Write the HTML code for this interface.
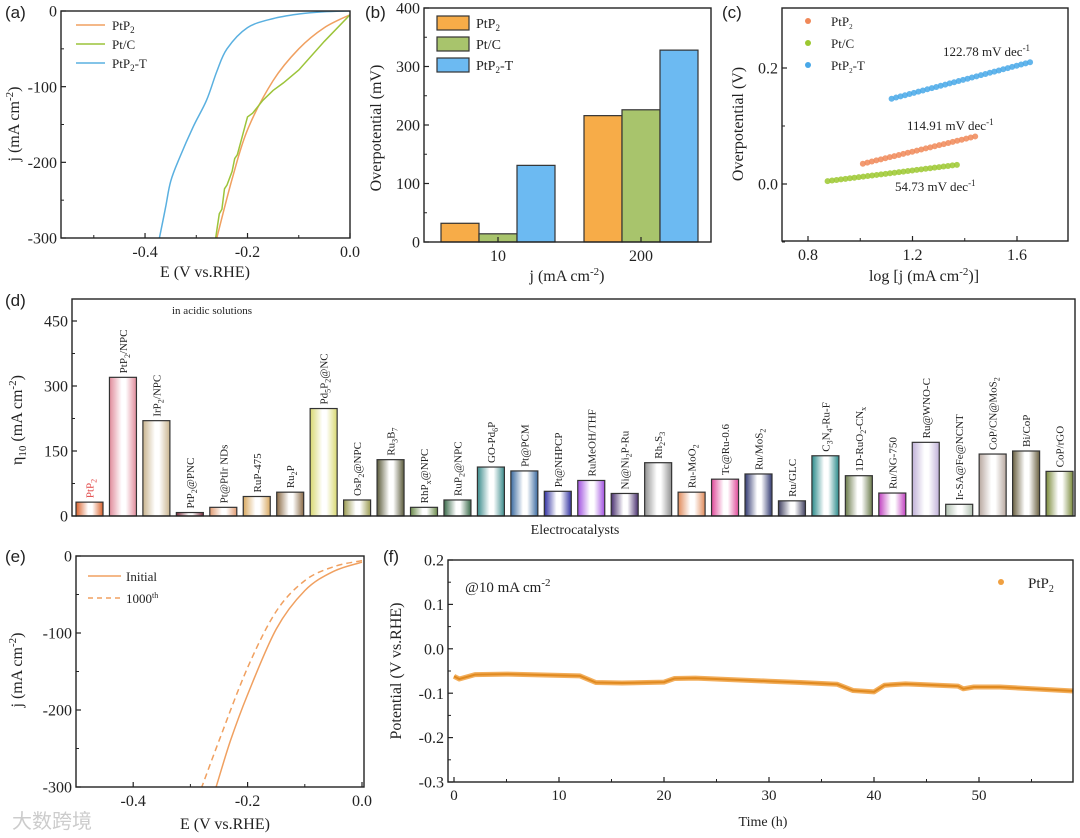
<!DOCTYPE html>
<html><head><meta charset="utf-8">
<style>
html,body{margin:0;padding:0;background:#fff;overflow:hidden;}
svg{display:block;font-family:"Liberation Serif",serif;}
.pl{font-family:"Liberation Sans",sans-serif;font-size:17px;fill:#222;}
</style></head>
<body>
<svg id="fig" width="1080" height="838" viewBox="0 0 1080 838" xmlns="http://www.w3.org/2000/svg">
<defs id="defs"><clipPath id="ca"><rect x="61" y="11" width="289" height="227"/></clipPath><clipPath id="ce"><rect x="76" y="556" width="288" height="231"/></clipPath></defs>
<g id="root"></g>
</svg>
<script>
// ---------- DATA ----------
// (a) LSV curves
const aPtP2E=[0,-0.05,-0.1,-0.15,-0.2,-0.23,-0.26];
const aPtP2J=[-5,-22,-50,-92,-157,-222,-300];
const aPtCE=[0,-0.05,-0.1,-0.13,-0.15,-0.17,-0.19,-0.2,-0.21,-0.22,-0.225,-0.23,-0.24,-0.245,-0.25,-0.255,-0.26,-0.262];
const aPtCJ=[-5,-40,-78,-95,-105,-118,-135,-140,-165,-190,-195,-212,-230,-235,-262,-268,-290,-300];
const aTE=[0,-0.05,-0.1,-0.15,-0.2,-0.24,-0.26,-0.28,-0.306,-0.332,-0.35,-0.36,-0.372];
const aTJ=[0,-1,-4,-10,-22,-50,-80,-118,-153,-193,-225,-260,-300];
// (b) bars
const bCats=["10","200"];
const bPtP2=[32,216];
const bPtC=[14,226];
const bPtP2T=[131,328];
// (c) Tafel
const cPtP2X=[1.01,1.44];const cPtP2Y=[0.035,0.082];
const cPtCX=[0.875,1.37];const cPtCY=[0.005,0.033];
const cTX=[1.12,1.65];const cTY=[0.147,0.21];
// (d) catalysts
const dNames=["PtP<tspan dy='3' font-size='8'>2</tspan>","PtP<tspan dy='3' font-size='8'>2</tspan><tspan dy='-3'>/NPC</tspan>","IrP<tspan dy='3' font-size='8'>2</tspan><tspan dy='-3'>/NPC</tspan>","PtP<tspan dy='3' font-size='8'>2</tspan><tspan dy='-3'>@PNC</tspan>","Pt@PtIr NDs","RuP-475","Ru<tspan dy='3' font-size='8'>2</tspan><tspan dy='-3'>P</tspan>","Pd<tspan dy='3' font-size='8'>5</tspan><tspan dy='-3'>P</tspan><tspan dy='3' font-size='8'>2</tspan><tspan dy='-3'>@NC</tspan>","OsP<tspan dy='3' font-size='8'>2</tspan><tspan dy='-3'>@NPC</tspan>","Ru<tspan dy='3' font-size='8'>3</tspan><tspan dy='-3'>B</tspan><tspan dy='3' font-size='8'>7</tspan>","RhP<tspan dy='3' font-size='8'>x</tspan><tspan dy='-3'>@NPC</tspan>","RuP<tspan dy='3' font-size='8'>2</tspan><tspan dy='-3'>@NPC</tspan>","GO-Pd<tspan dy='3' font-size='8'>6</tspan><tspan dy='-3'>P</tspan>","Pt@PCM","Pt@NHPCP","RuMeOH/THF","Ni@Ni<tspan dy='3' font-size='8'>2</tspan><tspan dy='-3'>P-Ru</tspan>","Rh<tspan dy='3' font-size='8'>2</tspan><tspan dy='-3'>S</tspan><tspan dy='3' font-size='8'>3</tspan>","Ru-MoO<tspan dy='3' font-size='8'>2</tspan>","Tc@Ru-0.6","Ru/MoS<tspan dy='3' font-size='8'>2</tspan>","Ru/GLC","C<tspan dy='3' font-size='8'>3</tspan><tspan dy='-3'>N</tspan><tspan dy='3' font-size='8'>4</tspan><tspan dy='-3'>-Ru-F</tspan>","1D-RuO<tspan dy='3' font-size='8'>2</tspan><tspan dy='-3'>-CN</tspan><tspan dy='3' font-size='8'>x</tspan>","Ru/NG-750","Ru@WNO-C","Ir-SA@Fe@NCNT","CoP/CN@MoS<tspan dy='3' font-size='8'>2</tspan>","Bi/CoP","CoP/rGO"];
const dVals=[32,320,220,8,20,45,55,248,37,130,20,37,113,104,57,82,52,123,55,85,97,35,139,93,53,170,27,143,150,103];
const dColors=["#d9602a","#e08a9a","#c9b48e","#7a2a3a","#e09a70","#d8a860","#8a6a45","#d8d870","#9a9a50","#5a5a3a","#6a8a4a","#3a6a4a","#3a8a8a","#3a6aa0","#3030a0","#a050e0","#4a3070","#909090","#e08a5a","#e04a9a","#303870","#404060","#2a8a8a","#6a7a4a","#c040c0","#c0b0d8","#b0c0b0","#b8a8a0","#6a6040","#7a8a3a"];
// (e) stability LSV
const eInitE=[0,-0.05,-0.1,-0.15,-0.2,-0.23,-0.255];
const eInitJ=[-8,-20,-45,-95,-180,-240,-300];
const e1000E=[0,-0.05,-0.1,-0.15,-0.2,-0.25,-0.28];
const e1000J=[-6,-14,-32,-72,-145,-240,-300];
// (f) chronopotentiometry
const fT=[0,0.5,2,5,10,12,13.5,16,20,21,23,30,33,36.5,38,40,41,43,48,48.5,49.5,52,59];
const fV=[-0.062,-0.068,-0.058,-0.057,-0.06,-0.061,-0.076,-0.077,-0.075,-0.067,-0.066,-0.073,-0.076,-0.08,-0.094,-0.097,-0.082,-0.079,-0.084,-0.09,-0.086,-0.086,-0.095];

// ---------- HELPERS ----------
const NS="http://www.w3.org/2000/svg";
const root=document.getElementById('root');
const defs=document.getElementById('defs');
function el(tag,attrs,parent){const e=document.createElementNS(NS,tag);for(const k in attrs)e.setAttribute(k,attrs[k]);(parent||root).appendChild(e);return e;}
function lin(d0,d1,r0,r1){return v=>r0+(v-d0)/(d1-d0)*(r1-r0);}
function txt(x,y,html,size,anchor,parent,extra){const t=el('text',Object.assign({x:x,y:y,'font-size':size,'text-anchor':anchor||'middle',fill:'#222'},extra||{}),parent);t.innerHTML=html;return t;}
function box(x0,y0,x1,y1,g){el('rect',{x:x0,y:y0,width:x1-x0,height:y1-y0,fill:'none',stroke:'#222','stroke-width':1.4},g);}
function yTicks(g,x0,sy,vals,labels,minor,size){vals.forEach((v,i)=>{const y=sy(v);el('line',{x1:x0,y1:y,x2:x0+5,y2:y,stroke:'#222','stroke-width':1.2},g);const t=txt(x0-4,y+size*0.35,labels[i],size,'end',g);});(minor||[]).forEach(v=>{const y=sy(v);el('line',{x1:x0,y1:y,x2:x0+3,y2:y,stroke:'#222','stroke-width':1},g);});}
function xTicks(g,y0,sx,vals,labels,minor,size){vals.forEach((v,i)=>{const x=sx(v);el('line',{x1:x,y1:y0,x2:x,y2:y0-5,stroke:'#222','stroke-width':1.2},g);const t=txt(x,y0+size+3,labels[i],size,'middle',g);});(minor||[]).forEach(v=>{const x=sx(v);el('line',{x1:x,y1:y0,x2:x,y2:y0-3,stroke:'#222','stroke-width':1},g);});}
function path(xs,ys,sx,sy,attrs,g){const d=xs.map((x,i)=>(i?'L':'M')+sx(x).toFixed(1)+','+sy(ys[i]).toFixed(1)).join('');return el('path',Object.assign({d:d,fill:'none'},attrs),g);}
function spath(xs,ys,sx,sy,attrs,g){const P=xs.map((x,i)=>[sx(x),sy(ys[i])]);let d='M'+P[0][0].toFixed(1)+','+P[0][1].toFixed(1);
for(let i=0;i<P.length-1;i++){const p0=P[i-1]||P[i],p1=P[i],p2=P[i+1],p3=P[i+2]||P[i+1];
const c1=[p1[0]+(p2[0]-p0[0])/6,p1[1]+(p2[1]-p0[1])/6],c2=[p2[0]-(p3[0]-p1[0])/6,p2[1]-(p3[1]-p1[1])/6];
d+='C'+c1[0].toFixed(1)+','+c1[1].toFixed(1)+' '+c2[0].toFixed(1)+','+c2[1].toFixed(1)+' '+p2[0].toFixed(1)+','+p2[1].toFixed(1);}
return el('path',Object.assign({d:d,fill:'none'},attrs),g);}
function grp(name){const g=el('g',{});return g;}
function label(x,y,s){const t=el('text',{x:x,y:y,class:'pl'});t.textContent=s;}

// ---------- PANEL A ----------
(function(){
const g=grp('panel-a-lsv');
const sx=lin(-0.564,0,61,350), sy=lin(0,-300,11,238);
const cg=el('g',{'clip-path':'url(#ca)'},g);
const p1=spath(aPtP2E,aPtP2J,sx,sy,{stroke:'#f0a060','stroke-width':1.5},cg);
const p2=path(aPtCE,aPtCJ,sx,sy,{stroke:'#9cc43a','stroke-width':1.5},cg);
const p3=spath(aTE,aTJ,sx,sy,{stroke:'#5ab0e0','stroke-width':1.5},cg);
box(61,11,350,238,g);
yTicks(g,61,sy,[0,-100,-200,-300],['0','-100','-200','-300'],[-50,-150,-250],16);
xTicks(g,238,sx,[-0.4,-0.2,0],['-0.4','-0.2','0.0'],[-0.5,-0.3,-0.1],16);
const xt=txt(205,277,'E (V vs.RHE)',16,'middle',g);
const yt=txt(0,0,'j (mA cm<tspan dy="-6" font-size="11">-2</tspan><tspan dy="6">)</tspan>',16,'middle',g,{transform:'translate(19,124) rotate(-90)'});
const lg=[['#f0a060','PtP<tspan dy="3" font-size="9">2</tspan>'],['#9cc43a','Pt/C'],['#5ab0e0','PtP<tspan dy="3" font-size="9">2</tspan><tspan dy="-3">-T</tspan>']];
lg.forEach((l,i)=>{const y=25+i*19;const e=el('g',{},g);el('line',{x1:76,y1:y,x2:105,y2:y,stroke:l[0],'stroke-width':1.5},e);txt(112,y+5,l[1],13,'start',e);});
})();
label(5,18,'(a)');

// ---------- PANEL B ----------
(function(){
const g=grp('panel-b-overpotential-bars');
const sy=lin(0,400,242,8);
const centers=[498,641];const bw=38;
const series=[[bPtP2,'#f7ac48','ptp2'],[bPtC,'#a8c46c','pt-c'],[bPtP2T,'#6cbaf2','ptp2-t']];
bCats.forEach((c,ci)=>{series.forEach((s,si)=>{const x=centers[ci]+(si-1.5)*bw;const y=sy(s[0][ci]);const r=el('rect',{x:x,y:y,width:bw,height:sy(0)-y,fill:s[1],stroke:'#333','stroke-width':1.2},g);});});
box(424,8,711,242,g);
yTicks(g,424,sy,[0,100,200,300,400],['0','100','200','300','400'],[50,150,250,350],16);
xTicks(g,242,v=>centers[v],[0,1],bCats,[],16);
const xt=txt(567,281,'j (mA cm<tspan dy="-6" font-size="11">-2</tspan><tspan dy="6">)</tspan>',16,'middle',g);
const yt=txt(0,0,'Overpotential (mV)',16,'middle',g,{transform:'translate(381,128) rotate(-90)'});
const lg=[['#f7ac48','PtP<tspan dy="3" font-size="9">2</tspan>'],['#a8c46c','Pt/C'],['#6cbaf2','PtP<tspan dy="3" font-size="9">2</tspan><tspan dy="-3">-T</tspan>']];
lg.forEach((l,i)=>{const y=16+i*21;const e=el('g',{},g);el('rect',{x:437,y:y,width:32,height:14,fill:l[0],stroke:'#333','stroke-width':1.2},e);txt(476,y+12,l[1],14,'start',e);});
})();
label(365,18,'(b)');

// ---------- PANEL C ----------
(function(){
const g=grp('panel-c-tafel');
const sx=lin(0.8,1.6,808,1017), sy=lin(0,0.2,184,68);
const ser=[[cPtP2X,cPtP2Y,'#f08858','ptp2'],[cPtCX,cPtCY,'#9cc830','pt-c'],[cTX,cTY,'#48a8e8','ptp2-t']];
ser.forEach(s=>{const n=Math.round((sx(s[0][1])-sx(s[0][0]))/4.5);const sg=el('g',{},g);
for(let i=0;i<=n;i++){const t=i/n;const x=s[0][0]+(s[0][1]-s[0][0])*t,y=s[1][0]+(s[1][1]-s[1][0])*t;el('circle',{cx:sx(x),cy:sy(y),r:3,fill:s[2],opacity:0.85},sg);}});
box(782,8,1068,241,g);
yTicks(g,782,sy,[0,0.2],['0.0','0.2'],[-0.1,0.1],16);
xTicks(g,241,sx,[0.8,1.2,1.6],['0.8','1.2','1.6'],[1.0,1.4],16);
const xt=txt(924,281,'log [j (mA cm<tspan dy="-6" font-size="11">-2</tspan><tspan dy="6">)]</tspan>',16,'middle',g);
const yt=txt(0,0,'Overpotential (V)',16,'middle',g,{transform:'translate(743,124) rotate(-90)'});
[['122.78',943,56],['114.91',907,130],['54.73',895,191]].forEach(a=>{const t=txt(a[1],a[2],a[0]+' mV dec<tspan dy="-5" font-size="9">-1</tspan>',13,'start',g);});
const lg=[['#f08858','PtP<tspan dy="3" font-size="7">2</tspan>'],['#9cc830','Pt/C'],['#48a8e8','PtP<tspan dy="3" font-size="7">2</tspan><tspan dy="-3">-T</tspan>']];
lg.forEach((l,i)=>{const y=21+i*22;const e=el('g',{},g);el('circle',{cx:808,cy:y,r:3,fill:l[0]},e);txt(831,y+5,l[1],13,'start',e);});
})();
label(722,18,'(c)');

// ---------- PANEL D ----------
(function(){
const g=grp('panel-d-catalyst-comparison');
const sy=lin(0,450,516,321);
const pitch=33.45,bw=27,x0=76;
dVals.forEach((v,i)=>{
 const gid='gd'+i;const lgd=el('linearGradient',{id:gid,x1:0,x2:1,y1:0,y2:0},defs);
 [[0,dColors[i]],[0.45,'#ffffff'],[0.6,'#ffffff'],[1,dColors[i]]].forEach(s=>el('stop',{offset:s[0],'stop-color':s[1]},lgd));
 const x=x0+i*pitch,y=sy(v);
 const r=el('rect',{x:x,y:y,width:bw,height:516-y,fill:'url(#'+gid+')',stroke:'#333','stroke-width':1.2},g);
 
 const t=el('text',{x:0,y:0,'font-size':11,'text-anchor':'start',fill:i===0?'#e04040':'#222',transform:'translate('+(x+bw/2+4)+','+(y-4)+') rotate(-90)'},g);
 t.innerHTML=dNames[i];
});
box(72,299,1075,516,g);
yTicks(g,72,sy,[0,150,300,450],['0','150','300','450'],[75,225,375],16);
const xt=txt(575,534,'Electrocatalysts',14,'middle',g);
const yt=txt(0,0,'η<tspan dy="4" font-size="11">10</tspan><tspan dy="-4"> (mA cm</tspan><tspan dy="-6" font-size="11">-2</tspan><tspan dy="6">)</tspan>',16,'middle',g,{transform:'translate(22,420) rotate(-90)'});
const an=txt(172,314,'in acidic solutions',11,'start',g);
})();
label(5,306,'(d)');

// ---------- PANEL E ----------
(function(){
const g=grp('panel-e-stability-lsv');
const sx=lin(-0.5,0,76,362), sy=lin(0,-300,556,787);
const cg=el('g',{'clip-path':'url(#ce)'},g);
const p1=spath(eInitE,eInitJ,sx,sy,{stroke:'#f0a060','stroke-width':1.5},cg);
const p2=spath(e1000E,e1000J,sx,sy,{stroke:'#f0a060','stroke-width':1.5,'stroke-dasharray':'6,4'},cg);
box(76,556,364,787,g);
yTicks(g,76,sy,[0,-100,-200,-300],['0','-100','-200','-300'],[-50,-150,-250],16);
xTicks(g,787,sx,[-0.4,-0.2,0],['-0.4','-0.2','0.0'],[-0.3,-0.1],16);
const xt=txt(225,829,'E (V vs.RHE)',16,'middle',g);
const yt=txt(0,0,'j (mA cm<tspan dy="-6" font-size="11">-2</tspan><tspan dy="6">)</tspan>',16,'middle',g,{transform:'translate(22,670) rotate(-90)'});
const l1=el('g',{},g);el('line',{x1:88,y1:576,x2:121,y2:576,stroke:'#f0a060','stroke-width':1.5},l1);txt(126,581,'Initial',13,'start',l1);
const l2=el('g',{},g);el('line',{x1:88,y1:598,x2:121,y2:598,stroke:'#f0a060','stroke-width':1.5,'stroke-dasharray':'5,4'},l2);txt(126,603,'1000<tspan dy="-5" font-size="8">th</tspan>',13,'start',l2);
const wm=txt(12,828,'大数跨境',20,'start',g,{fill:'#ccc',style:'font-family:"Liberation Sans","Noto Sans CJK SC",sans-serif'});
})();
label(5,562,'(e)');

// ---------- PANEL F ----------
(function(){
const g=grp('panel-f-chronopotentiometry');
const sx=lin(0,50,454,979), sy=lin(0.2,-0.3,560,782);
const cg=el('g',{},g);
const p=path(fT,fV,sx,sy,{stroke:'#f0a040','stroke-width':5,'stroke-linejoin':'round',opacity:0.85},cg);
const p2=path(fT,fV,sx,sy,{stroke:'#e08a20','stroke-width':2},cg);
box(448,560,1073,782,g);
yTicks(g,448,sy,[0.2,0.1,0,-0.1,-0.2,-0.3],['0.2','0.1','0.0','-0.1','-0.2','-0.3'],[0.15,0.05,-0.05,-0.15,-0.25],16);
xTicks(g,782,sx,[0,10,20,30,40,50],['0','10','20','30','40','50'],[5,15,25,35,45,55],15);
const xt=txt(763,826,'Time (h)',14,'middle',g);
const yt=txt(0,0,'Potential (V vs.RHE)',16,'middle',g,{transform:'translate(401,671) rotate(-90)'});
const an=txt(465,592,'@10 mA cm<tspan dy="-6" font-size="11">-2</tspan>',15,'start',g);
const l=el('g',{},g);el('circle',{cx:1001,cy:582,r:3,fill:'#f0a040'},l);txt(1028,588,'PtP<tspan dy="4" font-size="10">2</tspan>',15,'start',l);
})();
label(383,562,'(f)');
</script>
</body></html>
